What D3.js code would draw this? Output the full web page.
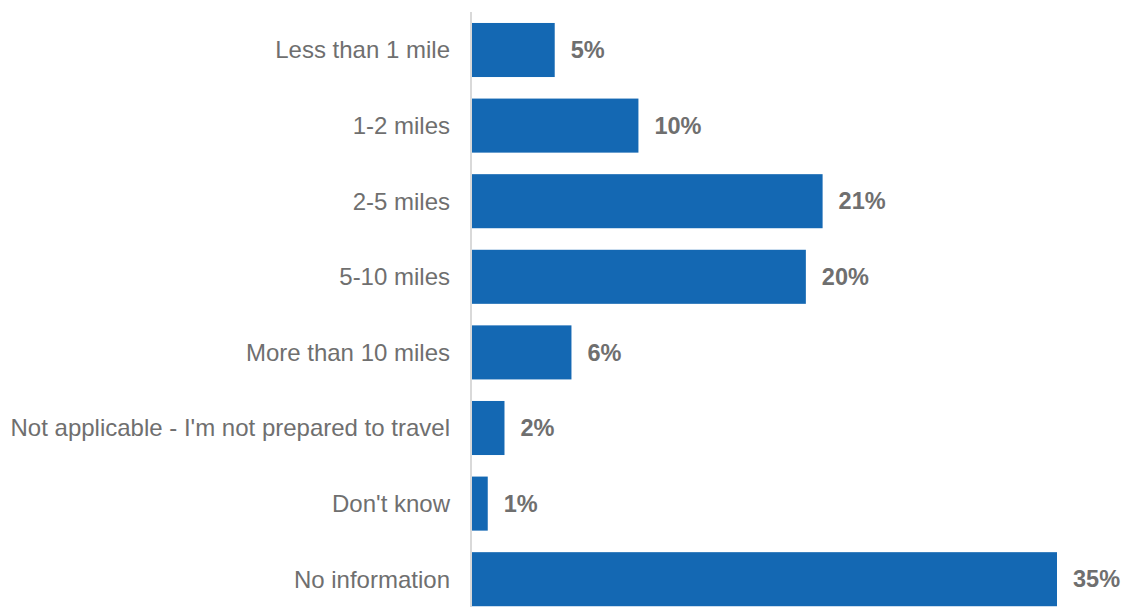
<!DOCTYPE html>
<html>
<head>
<meta charset="utf-8">
<script src="https://cdn.jsdelivr.net/npm/d3@7/dist/d3.min.js"></script>
<style>
  html, body { margin: 0; padding: 0; background: #ffffff; }
  svg { display: block; }
</style>
</head>
<body>
<svg id="chart" width="1125" height="607"></svg>
<script>
// Distance people are prepared to travel
const categories = [
  "Less than 1 mile",
  "1-2 miles",
  "2-5 miles",
  "5-10 miles",
  "More than 10 miles",
  "Not applicable - I'm not prepared to travel",
  "Don't know",
  "No information"
];
const values = [5, 10, 21, 20, 6, 2, 1, 35];

const width = 1125, height = 607;
const axisX = 471;

const svg = d3.select("#chart");

const x = d3.scaleLinear()
  .domain([0, 35])
  .range([axisX, 1057]);

const y = d3.scaleBand()
  .domain(categories)
  .range([12.2, 617])
  .paddingInner(0.285)
  .paddingOuter(0.1425);

// bars
svg.append("g")
  .selectAll("rect")
  .data(values)
  .join("rect")
  .attr("x", x(0) + 1)
  .attr("y", (d, i) => y(categories[i]))
  .attr("width", d => x(d) - x(0) - 1)
  .attr("height", y.bandwidth())
  .attr("fill", "#1468b3");

// vertical axis line
svg.append("line")
  .attr("x1", axisX).attr("x2", axisX)
  .attr("y1", 12).attr("y2", height)
  .attr("stroke", "#d9d9d9")
  .attr("stroke-width", 2);

// category labels
svg.append("g")
  .selectAll("text")
  .data(categories)
  .join("text")
  .attr("x", axisX - 21)
  .attr("y", d => y(d) + y.bandwidth() / 2)
  .attr("dy", "0.35em")
  .attr("text-anchor", "end")
  .attr("font-family", "Liberation Sans, Arial, sans-serif")
  .attr("font-size", 24)
  .attr("fill", "#6f6f6f")
  .text(d => d);

// value labels
svg.append("g")
  .selectAll("text")
  .data(values)
  .join("text")
  .attr("x", d => x(d) + 16)
  .attr("y", (d, i) => y(categories[i]) + y.bandwidth() / 2)
  .attr("dy", "0.35em")
  .attr("font-family", "Liberation Sans, Arial, sans-serif")
  .attr("font-size", 23.5)
  .attr("font-weight", "bold")
  .attr("fill", "#6f6f6f")
  .text(d => d + "%");
</script>
</body>
</html>
